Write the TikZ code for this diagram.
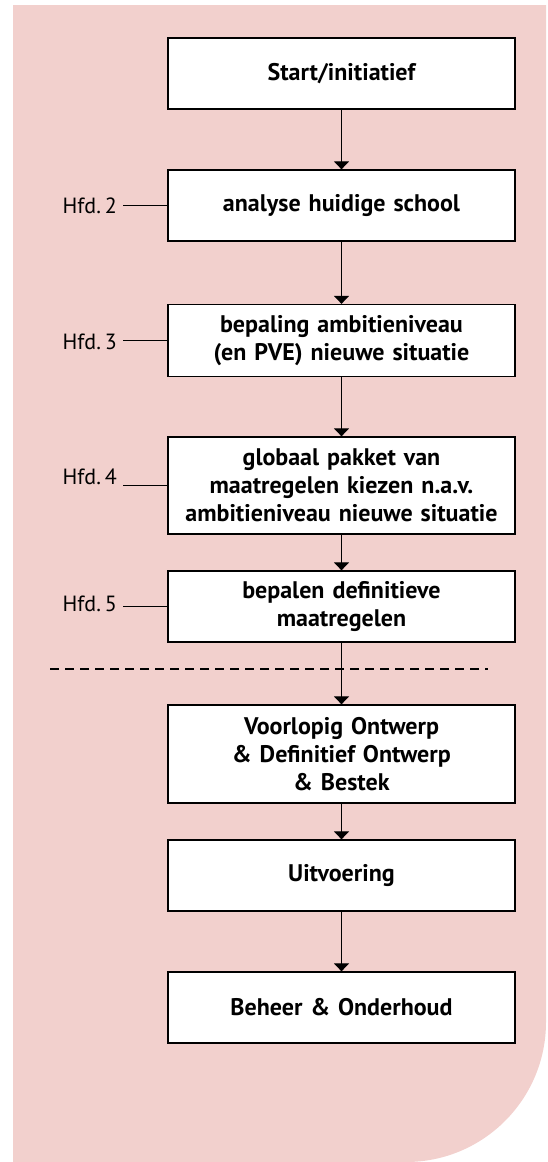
\documentclass[tikz,border=0pt]{standalone}
\usepackage{fontspec}
\setmainfont{PT Sans}
\usetikzlibrary{arrows.meta}
\definecolor{bgpink}{RGB}{242,208,205}
\begin{document}
\begin{tikzpicture}[x=1pt,y=-1pt,
  stepbox/.style={draw=black, line width=1.3pt, fill=white, minimum width=347pt,
    text width=340pt, align=center, inner sep=0pt,
    font=\bfseries\fontsize{24}{28}\selectfont},
  hfd/.style={anchor=east, inner sep=0pt, outer xsep=6pt,
    font=\fontsize{22}{26}\selectfont},
  flow/.style={line width=1.2pt, -{Triangle[width=15pt,length=8pt]}},
  tick/.style={line width=1.2pt},
  sep/.style={line width=1.1pt, dash pattern=on 9pt off 6pt}]
\useasboundingbox (0,0) rectangle (547,1162);
\fill[bgpink] (13,5) -- (546,5) -- (546,1022)
  .. controls (546,1099.3) and (483.3,1162) .. (406,1162) -- (13,1162) -- cycle;

\coordinate (dl) at (50,669);
\coordinate (dr) at (488,669);
\draw[sep] (dl) -- (dr);

\node[stepbox, minimum height=71pt] (b1) at (341.5,73.5) {Start/initiatief};
\node[stepbox, minimum height=71pt] (b2) at (341.5,205.5) {analyse huidige school};
\node[stepbox, minimum height=72pt] (b3) at (341.5,340.5) {bepaling ambitieniveau\\(en PVE) nieuwe situatie};
\node[stepbox, minimum height=97pt] (b4) at (341.5,485.5) {globaal pakket van\\maatregelen kiezen n.a.v.\\ambitieniveau nieuwe situatie};
\node[stepbox, minimum height=71pt] (b5) at (341.5,606.5) {bepalen definitieve\\maatregelen};
\node[stepbox, minimum height=98pt] (b6) at (341.5,754) {Voorlopig Ontwerp\\\& Definitief Ontwerp\\\& Bestek};
\node[stepbox, minimum height=71pt] (b7) at (341.5,875.5) {Uitvoering};
\node[stepbox, minimum height=71pt] (b8) at (341.5,1007.5) {Beheer \& Onderhoud};

\draw[flow] (b1) -- (b2);
\draw[flow] (b2) -- (b3);
\draw[flow] (b3) -- (b4);
\draw[flow] (b4) -- (b5);
\draw[flow] (b5) -- (b6);
\draw[flow] (b6) -- (b7);
\draw[flow] (b7) -- (b8);

\node[hfd] (h2) at (123,206) {Hfd.\kern4pt 2};
\node[hfd] (h3) at (123,342) {Hfd.\kern4pt 3};
\node[hfd] (h4) at (123,477) {Hfd.\kern4pt 4};
\node[hfd] (h5) at (123,604) {Hfd.\kern4pt 5};
\draw[tick] (h2.east |- b2.west) -- (b2.west);
\draw[tick] (h3.east |- b3.west) -- (b3.west);
\draw[tick] (h4.east |- b4.west) -- (b4.west);
\draw[tick] (h5.east |- b5.west) -- (b5.west);
\end{tikzpicture}
\end{document}
